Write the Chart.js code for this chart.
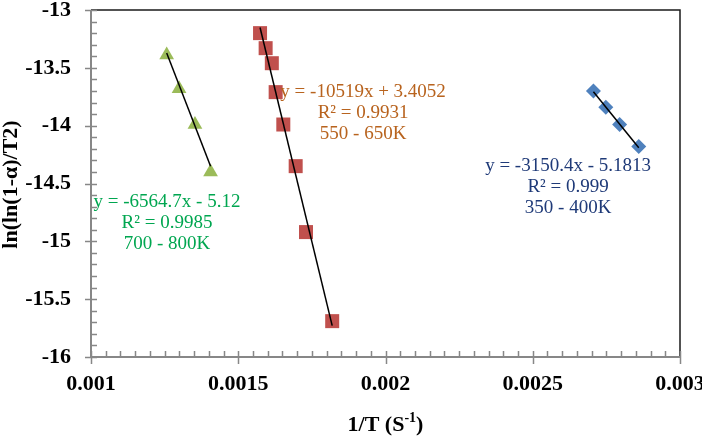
<!DOCTYPE html>
<html>
<head>
<meta charset="utf-8">
<script src="https://cdn.jsdelivr.net/npm/chart.js@4.4.1/dist/chart.umd.min.js"></script>
<style>
  html, body { margin: 0; padding: 0; background: #fff; }
  #wrap { width: 702px; height: 442px; }
</style>
</head>
<body>
<div id="wrap"><canvas id="chart" width="702" height="442"></canvas></div>
<script>
// values
const greenX = [0.001257, 0.001299, 0.001353, 0.001406];
const greenY = [-13.39, -13.68, -13.99, -14.40];
const redX = [0.001574, 0.001593, 0.001614, 0.001627, 0.001653, 0.001695, 0.00173, 0.001819];
const redY = [-13.20, -13.33, -13.46, -13.71, -13.99, -14.35, -14.92, -15.69];
const blueX = [0.002706, 0.002748, 0.002795, 0.00286];
const blueY = [-13.70, -13.84, -13.99, -14.18];

// linear fits shown on the chart
const fitSlopes = [-6564.7, -10519, -3150.4];
const fitIntercepts = [-5.12, 3.4052, -5.1813];
const fitR2 = ['0.9985', '0.9931', '0.999'];
const fitRanges = ['700 - 800K', '550 - 650K', '350 - 400K'];

const xTicks = [0.001, 0.0015, 0.002, 0.0025, 0.003];
const yTicks = [-16, -15.5, -15, -14.5, -14, -13.5, -13];

const SERIF = "'Liberation Serif', 'Times New Roman', serif";
const markerColors = ['#9BBB59', '#C0504D', '#4F81BD'];
const labelColors = ['#00A650', '#B8631E', '#1F3A78'];
// label anchors in data units (centre x, first line y)
const labelAnchors = [[0.001258, -14.66], [0.001924, -13.71], [0.00262, -14.35]];

const seriesX = [greenX, redX, blueX];
const seriesY = [greenY, redY, blueY];

function toPoints(xs, ys) {
  return xs.map((x, i) => ({ x, y: ys[i] }));
}

// fitted line between the smallest and largest x of a series
function trendPoints(i) {
  const xs = seriesX[i];
  const lo = Math.min(...xs);
  const hi = Math.max(...xs);
  return [lo, hi].map(x => ({ x, y: fitSlopes[i] * x + fitIntercepts[i] }));
}

function fitText(i) {
  const b = fitIntercepts[i];
  const sign = b < 0 ? '-' : '+';
  return [
    `y = ${fitSlopes[i]}x ${sign} ${Math.abs(b)}`,
    `R² = ${fitR2[i]}`,
    fitRanges[i],
  ];
}

const frame = {
  id: 'frame',
  beforeDatasetsDraw(chart) {
    const { ctx, chartArea: ca, scales: { x, y } } = chart;
    ctx.save();
    // top and right border
    ctx.strokeStyle = '#1a1a1a';
    ctx.lineWidth = 1.5;
    ctx.beginPath();
    ctx.moveTo(ca.left, ca.top);
    ctx.lineTo(ca.right, ca.top);
    ctx.lineTo(ca.right, ca.bottom);
    ctx.stroke();

    // grey axes
    ctx.strokeStyle = '#878787';
    ctx.lineWidth = 2;
    ctx.beginPath();
    ctx.moveTo(ca.left, ca.top);
    ctx.lineTo(ca.left, ca.bottom);
    ctx.lineTo(ca.right, ca.bottom);
    ctx.stroke();

    ctx.lineWidth = 1.5;
    ctx.beginPath();
    // y ticks: minor every 0.1 inside, major every 0.5 crossing
    for (let k = 0; k <= 30; k++) {
      const py = Math.round(y.getPixelForValue(-16 + k * 0.1)) + 0.5;
      const major = k % 5 === 0;
      ctx.moveTo(ca.left - (major ? 6 : 0), py);
      ctx.lineTo(ca.left + 6, py);
    }
    // x ticks: minor every 0.00005 inside, major every 0.0005 crossing
    for (let k = 0; k <= 40; k++) {
      const px = Math.round(x.getPixelForValue(0.001 + k * 0.00005)) + 0.5;
      const major = k % 10 === 0;
      ctx.moveTo(px, ca.bottom - 6);
      ctx.lineTo(px, ca.bottom + (major ? 7 : 0));
    }
    ctx.stroke();
    ctx.restore();
  },
  afterDatasetsDraw(chart) {
    const { ctx, chartArea: ca, scales: { x, y } } = chart;
    ctx.save();
    ctx.textAlign = 'center';
    ctx.textBaseline = 'middle';
    ctx.font = `19px ${SERIF}`;
    labelAnchors.forEach(([ax, ay], i) => {
      const px = x.getPixelForValue(ax);
      const py = y.getPixelForValue(ay);
      ctx.fillStyle = labelColors[i];
      fitText(i).forEach((line, j) => ctx.fillText(line, px, py + j * 21));
    });

    // axis titles
    ctx.fillStyle = '#000';
    ctx.font = `bold 22px ${SERIF}`;
    ctx.save();
    ctx.translate(17, (ca.top + ca.bottom) / 2 + 1);
    ctx.rotate(-Math.PI / 2);
    ctx.textBaseline = 'alphabetic';
    ctx.fillText('ln(ln(1-α)/T2)', 0, 0);
    ctx.restore();

    const base = 431;
    const main = '1/T (S';
    const sup = '-1';
    const close = ')';
    const wMain = ctx.measureText(main).width;
    const wClose = ctx.measureText(close).width;
    ctx.font = `bold 14px ${SERIF}`;
    const wSup = ctx.measureText(sup).width;
    const total = wMain + wSup + wClose;
    let cx = (ca.left + ca.right) / 2 - total / 2;
    ctx.textAlign = 'left';
    ctx.textBaseline = 'alphabetic';
    ctx.font = `bold 22px ${SERIF}`;
    ctx.fillText(main, cx, base);
    cx += wMain;
    ctx.font = `bold 14px ${SERIF}`;
    ctx.fillText(sup, cx, base - 9);
    cx += wSup;
    ctx.font = `bold 22px ${SERIF}`;
    ctx.fillText(close, cx, base);
    ctx.restore();
  },
};

const markerStyles = ['triangle', 'rect', 'rectRot'];
const markerRadius = [8.5, 9.9, 7.5];

const datasets = [];
[0, 1, 2].forEach(i => {
  datasets.push({
    type: 'line',
    data: trendPoints(i),
    borderColor: '#000',
    borderWidth: 1.5,
    pointRadius: 0,
    showLine: true,
    fill: false,
    order: 0,
  });
});
[0, 1, 2].forEach(i => {
  datasets.push({
    data: toPoints(seriesX[i], seriesY[i]),
    pointStyle: markerStyles[i],
    pointRadius: markerRadius[i],
    backgroundColor: markerColors[i],
    borderColor: markerColors[i],
    borderWidth: 0,
    showLine: false,
    order: 1,
  });
});

new Chart(document.getElementById('chart'), {
  type: 'scatter',
  data: { datasets },
  options: {
    responsive: false,
    devicePixelRatio: 1,
    animation: false,
    layout: { padding: { top: 10, right: 22, left: 0, bottom: 0 } },
    plugins: {
      legend: { display: false },
      tooltip: { enabled: false },
    },
    scales: {
      x: {
        type: 'linear',
        min: xTicks[0],
        max: xTicks[xTicks.length - 1],
        afterBuildTicks: scale => { scale.ticks = xTicks.map(value => ({ value })); },
        afterFit: scale => {
          scale.height = 85;
          scale.paddingLeft = 0;
          scale.paddingRight = 0;
        },
        grid: { display: false, drawTicks: false },
        border: { display: false },
        ticks: {
          color: '#000',
          padding: 14,
          maxRotation: 0,
          font: { family: SERIF, size: 22, weight: 'bold' },
          callback: value => String(+value.toFixed(4)),
        },
      },
      y: {
        min: yTicks[0],
        max: yTicks[yTicks.length - 1],
        afterBuildTicks: scale => { scale.ticks = yTicks.map(value => ({ value })); },
        afterFit: scale => {
          scale.width = 91;
          scale.paddingTop = 0;
          scale.paddingBottom = 0;
        },
        grid: { display: false, drawTicks: false },
        border: { display: false },
        ticks: {
          color: '#000',
          padding: 20,
          font: { family: SERIF, size: 22, weight: 'bold' },
          callback: value => String(value),
        },
      },
    },
  },
  plugins: [frame],
});
</script>
</body>
</html>
